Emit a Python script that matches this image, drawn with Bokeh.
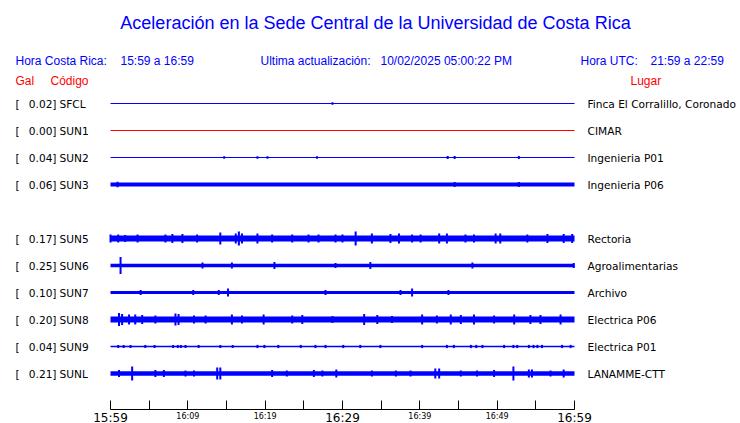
from bokeh.plotting import figure
from bokeh.models import Range1d, ColumnDataSource, FixedTicker
from bokeh.embed import file_html
from bokeh.resources import INLINE
from bokeh.core.properties import value

# ---------------- data ----------------
title_text = "Aceleración en la Sede Central de la Universidad de Costa Rica"
hora_cr = "15:59 a 16:59"
hora_utc = "21:59 a 22:59"
actualizacion = "10/02/2025 05:00:22 PM"

row_order = ["SFCL", "SUN1", "SUN2", "SUN3", "SUN4", "SUN5", "SUN6", "SUN7", "SUN8", "SUN9", "SUNL"]
codes = ["SFCL", "SUN1", "SUN2", "SUN3", "SUN5", "SUN6", "SUN7", "SUN8", "SUN9", "SUNL"]
gal = [0.02, 0.00, 0.04, 0.06, 0.17, 0.25, 0.10, 0.20, 0.04, 0.21]
lugar = ["Finca El Corralillo, Coronado", "CIMAR", "Ingenieria P01", "Ingenieria P06",
         "Rectoria", "Agroalimentarias", "Archivo", "Electrica P06", "Electrica P01", "LANAMME-CTT"]
trace_color = ["#0000ff", "#ff0000", "#0000ff", "#0000ff", "#0000ff",
               "#0000ff", "#0000ff", "#0000ff", "#0000ff", "#0000ff"]
# background half-amplitude of each trace (trace units)
base_amp = [0.55, 0.55, 0.55, 1.9, 3.0, 1.8, 1.6, 3.0, 0.7, 2.3]

# bursts: minutes after 15:59 and half-amplitude (trace units)
sfcl_t = [28.7]
sfcl_a = [1.2]
sun1_t = []
sun1_a = []
sun2_t = [14.7, 19.0, 20.3, 26.7, 43.6, 44.5, 52.8]
sun2_a = [1.2, 1.2, 1.2, 1.2, 1.6, 1.6, 1.6]
sun3_t = [0.9, 44.5, 52.8]
sun3_a = [2.8, 2.6, 2.6]
sun5_t = [0.0, 1.0, 1.9, 3.5, 7.1, 8.0, 9.3, 11.2, 14.2, 16.2, 16.6, 17.0, 19.0, 20.9, 23.5,
          25.6, 26.9, 29.1, 30.0, 31.7, 33.8, 36.2, 37.3, 39.0, 40.1, 42.5, 43.5, 45.9, 47.0,
          49.8, 50.4, 53.9, 56.5, 58.6, 59.7]
sun5_a = [4, 4, 3.5, 4, 4, 4.5, 4.5, 4, 6, 5, 7, 5, 5, 4, 4, 4, 4, 4, 4, 7, 5, 4.5, 5, 4, 4,
          5, 5, 4, 4, 5, 5, 4, 4.5, 4.5, 4.5]
sun6_t = [1.3, 11.9, 15.7, 21.2, 29.1, 33.6, 46.8, 59.9]
sun6_a = [8.5, 3, 3, 3.5, 2.5, 3.5, 3, 2.5]
sun7_t = [3.9, 10.7, 14.0, 15.2, 27.8, 37.5, 39.0, 43.7]
sun7_a = [2.5, 2.5, 2.5, 4, 2.5, 2.5, 4, 2.5]
sun8_t = [1.1, 1.5, 2.4, 3.2, 4.1, 5.8, 8.4, 8.8, 10.8, 12.3, 15.7, 17.0, 19.8, 23.5, 24.8,
          28.7, 32.8, 34.5, 36.4, 40.3, 42.2, 44.0, 45.3, 47.0, 49.6, 52.2, 54.3, 55.6, 58.2]
sun8_a = [6.5, 5.5, 5, 5, 4.5, 4, 6, 5.5, 4, 4, 5, 4, 5, 4, 4.5,
          3.5, 5.5, 4.5, 3.5, 5, 4, 5, 4.5, 5, 4, 5, 4.5, 4.5, 5]
sun9_t = [1.0, 1.7, 2.6, 4.5, 5.7, 8.1, 8.7, 9.1, 9.7, 11.4, 14.2, 15.8, 19.0, 19.9, 21.7,
          24.6, 26.5, 27.8, 30.1, 32.3, 34.9, 40.3, 43.5, 44.4, 46.6, 47.3, 48.1, 50.9, 52.1,
          52.6, 54.1, 54.7, 55.2, 55.8, 58.4, 59.5]
sun9_a = [1.6] * len(sun9_t)
sunl_t = [1.1, 2.8, 5.8, 6.9, 9.7, 10.8, 13.8, 14.2, 20.9, 22.8, 26.3, 27.4, 29.2, 33.8,
          36.9, 38.8, 42.0, 42.5, 45.3, 47.4, 49.6, 52.1, 54.1, 54.5, 56.9, 58.6]
sunl_a = [3.5, 7, 3.5, 3.5, 3, 3, 6, 6, 3.5, 3, 3.5, 3, 4, 3,
          3, 3, 5, 5, 3, 3, 3.5, 7, 4, 4, 3, 4]

burst_times = [sfcl_t, sun1_t, sun2_t, sun3_t, sun5_t, sun6_t, sun7_t, sun8_t, sun9_t, sunl_t]
burst_amps = [sfcl_a, sun1_a, sun2_a, sun3_a, sun5_a, sun6_a, sun7_a, sun8_a, sun9_a, sunl_a]

tick_minutes = [0, 5, 10, 15, 20, 25, 30, 35, 40, 45, 50, 55, 60]
tick_labels = ["15:59", "", "16:09", "", "16:19", "", "16:29", "", "16:39", "", "16:49", "", "16:59"]
big_tick_labels = ["15:59", "16:29", "16:59"]

# ---------------- layout helpers ----------------
W, H = 740, 423
X0_PX = 110.0
PX_PER_MIN = 464.0 / 60.0
ROW0_PX = 103.0
ROW_PX = 27.0
AXIS_PX = 409.0


def dx(px):
    return (px - X0_PX) / PX_PER_MIN


def dy(py):
    return -(py - ROW0_PX) / ROW_PX


BLUE = "#0000ff"
RED = "#ff0000"
HEAD_FONT = value("Liberation Sans")
ROW_FONT = value("DejaVu Sans")
ROW_SIZE = "10.6px"

p = figure(width=W, height=H, output_backend="svg", toolbar_location=None,
           x_range=Range1d(dx(0), dx(W)), y_range=Range1d(dy(H), dy(0)),
           min_border_left=0, min_border_right=0, min_border_top=0, min_border_bottom=0,
           x_axis_location="below", y_axis_location=None)
p.outline_line_color = None
p.xgrid.visible = False
p.ygrid.visible = False
p.background_fill_color = "white"
p.border_fill_color = "white"

row_y = [-row_order.index(c) for c in codes]

# base bands
band_src = ColumnDataSource(dict(
    y=row_y,
    h=[2 * a / ROW_PX for a in base_amp],
    color=trace_color,
))
p.hbar(y="y", left=tick_minutes[0], right=tick_minutes[-1], height="h", color="color",
       line_width=0, source=band_src)

# bursts
bx, by0, by1, bc = [], [], [], []
for yy, col, ts, amps in zip(row_y, trace_color, burst_times, burst_amps):
    for t, a in zip(ts, amps):
        bx.append(t)
        by0.append(yy - a / ROW_PX)
        by1.append(yy + a / ROW_PX)
        bc.append(col)
burst_src = ColumnDataSource(dict(x=bx, y0=by0, y1=by1, color=bc))
p.segment(x0="x", y0="y0", x1="x", y1="y1", color="color", line_width=2, source=burst_src)

# row texts
row_src = ColumnDataSource(dict(
    y=row_y,
    gal=["%.2f]" % g for g in gal],
    code=codes,
    lugar=lugar,
))
p.text(x=dx(15), y="y", text=value("["), text_font=ROW_FONT, text_font_size=ROW_SIZE,
       text_baseline="middle", text_color="black", source=row_src)
p.text(x=dx(56), y="y", text="gal", text_font=ROW_FONT, text_font_size=ROW_SIZE,
       text_baseline="middle", text_align="right", text_color="black", source=row_src)
p.text(x=dx(59), y="y", text="code", text_font=ROW_FONT, text_font_size=ROW_SIZE,
       text_baseline="middle", text_color="black", source=row_src)
p.text(x=dx(587), y="y", text="lugar", text_font=ROW_FONT, text_font_size=ROW_SIZE,
       text_baseline="middle", text_color="black", source=row_src)


# header texts
def head(txt, px, py, color, size="12px", align="left"):
    p.text(x=[dx(px)], y=[dy(py)], text=[txt], text_font=HEAD_FONT, text_font_size=size,
           text_color=color, text_baseline="middle", text_align=align)


head(title_text, 375, 22, BLUE, size="18px", align="center")
head("Hora Costa Rica:", 15, 60, BLUE)
head(hora_cr, 120, 60, BLUE)
head("Ultima actualización:", 260, 60, BLUE)
head(actualizacion, 380, 60, BLUE)
head("Hora UTC:", 580, 60, BLUE)
head(hora_utc, 650, 60, BLUE)
head("Gal", 15, 80, RED)
head("Código", 50, 80, RED)
head("Lugar", 630, 80, RED)

# time axis, drawn inside the frame at a fixed location
ax = p.xaxis[0]
ax.fixed_location = dy(AXIS_PX)
ax.ticker = FixedTicker(ticks=tick_minutes, minor_ticks=[])
ax.bounds = (tick_minutes[0], tick_minutes[-1])
ax.major_label_overrides = {t: ("" if l in big_tick_labels else l) for t, l in zip(tick_minutes, tick_labels)}
ax.major_tick_in = 9
ax.major_tick_out = 0
ax.minor_tick_in = 0
ax.minor_tick_out = 0
ax.major_label_standoff = 2
ax.major_label_text_font = "DejaVu Sans"
ax.major_label_text_font_size = "8px"
ax.major_label_text_color = "black"
ax.axis_line_color = "black"
ax.major_tick_line_color = "black"

big_t = [t for t, l in zip(tick_minutes, tick_labels) if l in big_tick_labels]
big_l = [l for l in tick_labels if l in big_tick_labels]
p.text(x=big_t, y=[dy(AXIS_PX + 1)] * len(big_t), text=big_l, text_align="center",
       text_baseline="top", text_font=ROW_FONT, text_font_size="12px", text_color="black")

open("out.html", "w").write(file_html(p, INLINE))
